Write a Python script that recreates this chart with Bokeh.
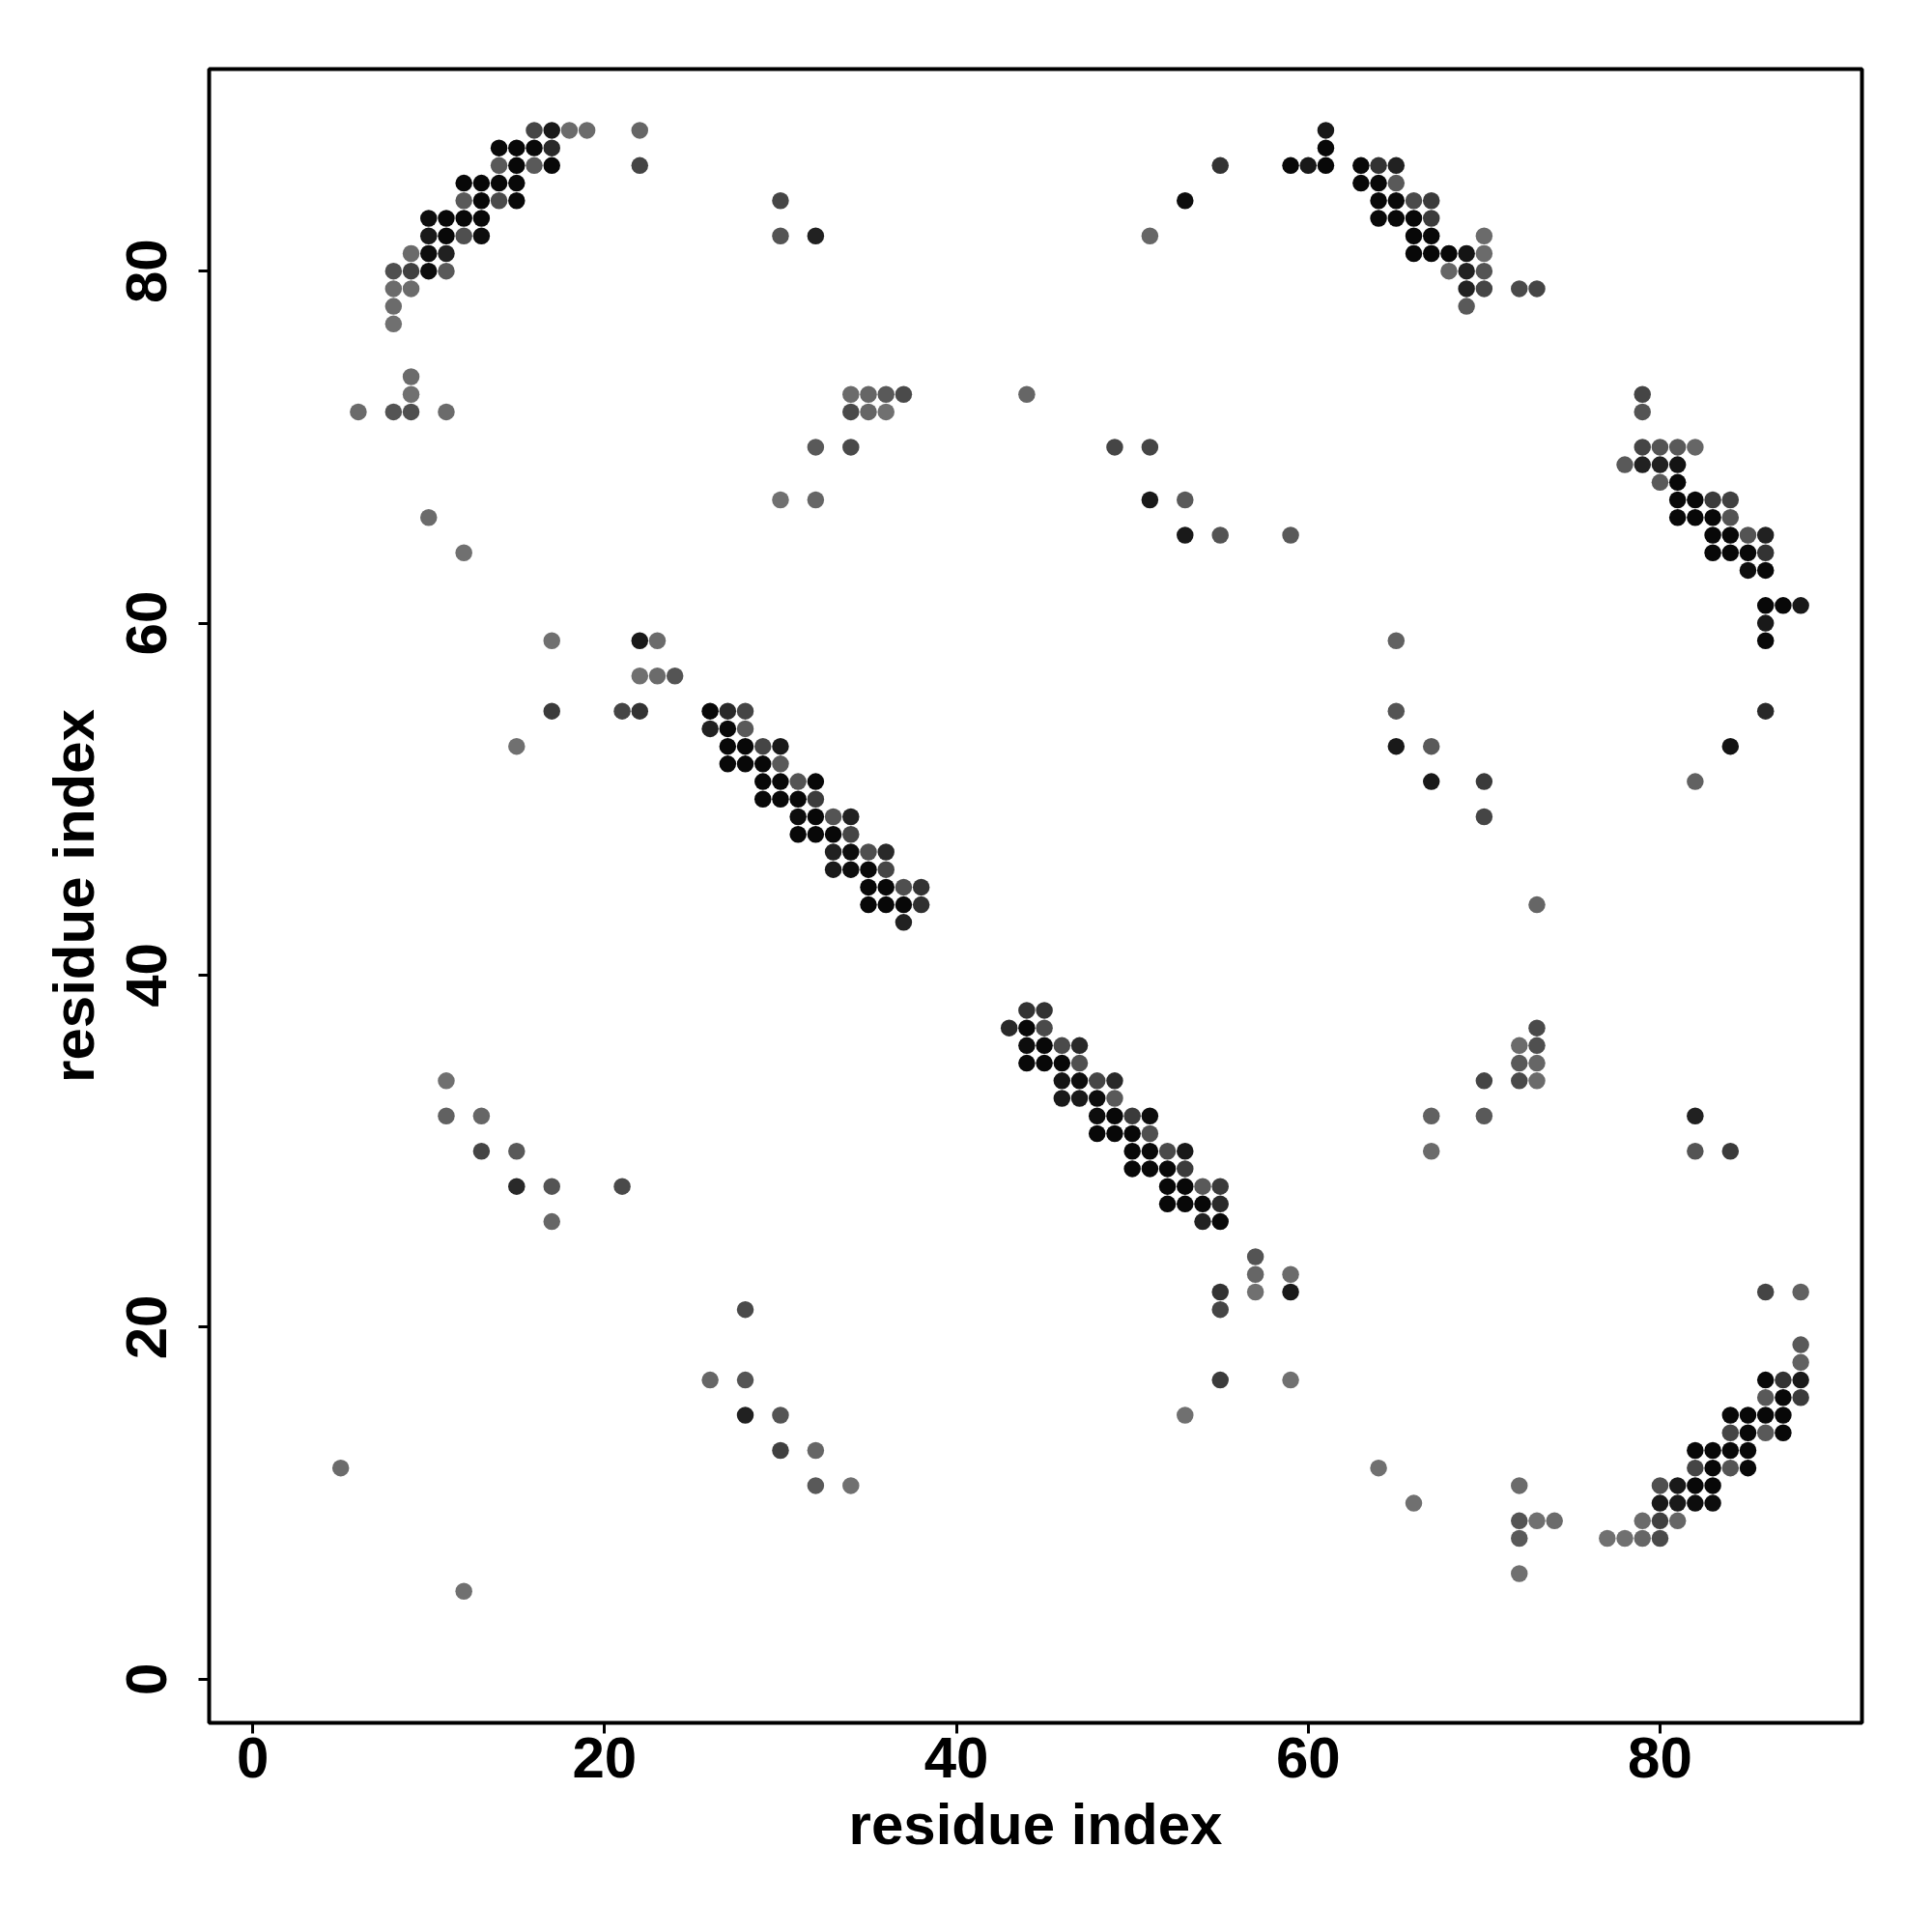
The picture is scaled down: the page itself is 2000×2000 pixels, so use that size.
from bokeh.plotting import figure
from bokeh.models import ColumnDataSource, FixedTicker, Range1d
from bokeh.embed import file_html
from bokeh.resources import INLINE

# contact map: residue i, residue j, contact probability
res_i = [
    16, 17, 18, 19, 22, 14, 15, 16, 17, 14, 15, 16, 17, 22, 12, 13, 14, 15,
    12, 13, 14, 15, 10, 11, 12, 13, 10, 11, 12, 13, 9, 10, 11, 8, 9, 10, 11,
    8, 9, 8, 8, 9, 9, 6, 8, 9, 11, 10, 12,
    30, 30, 32, 34, 35, 36, 37, 44, 34, 35, 36, 32, 34, 49, 30, 32,
    61, 61, 55, 59, 60, 61, 63, 64, 65, 63, 64, 65, 53, 64, 65, 66, 67,
    64, 65, 66, 67, 51, 66, 67, 70, 66, 67, 68, 69, 70, 68, 69, 70,
    69, 70, 72, 73, 69, 51, 51, 53, 53, 55, 59,
    79, 79, 79, 80, 81, 82, 78, 79, 80, 81, 80, 81, 81, 82, 83, 84,
    81, 82, 83, 84, 83, 84, 85, 86, 83, 84, 85, 86, 85, 86, 86, 87, 88,
    86, 86, 86, 84,
    17, 22, 23, 22, 23, 24, 17, 21, 22, 15,
    26, 27, 28, 26, 27, 28, 27, 28, 29, 30, 27, 28, 29, 30, 29, 30, 31, 32,
    29, 30, 31, 32, 31, 32, 33, 34, 31, 32, 33, 34, 33, 34, 35, 36,
    33, 34, 35, 36, 35, 36, 37, 38, 35, 36, 37, 38, 37,
    65, 65, 65, 67, 67, 70, 82, 70, 73,
    11, 11, 13, 13, 15, 15, 17, 21, 17, 28,
    44, 45, 43, 44, 45, 44, 45, 46, 47, 44, 45, 46, 47, 46, 47, 48, 49,
    46, 47, 48, 49, 48, 49, 50, 51, 48, 49, 50, 51, 50, 51, 52, 53,
    50, 51, 52, 53, 52, 53, 54, 55, 52, 53, 54, 55, 54, 55,
    57, 57, 59, 55, 57, 59, 55,
    73, 72, 73, 72, 73, 70, 72, 73, 67, 70, 82, 67, 82, 84, 86, 88, 88, 88,
    26, 28, 28, 30, 30, 32, 32, 34, 5, 12,
    55, 59, 86, 87, 88, 86, 87, 88, 53, 84, 85, 86, 87, 84, 85, 86, 87,
    82, 83, 84, 85, 64, 82, 83, 84, 85, 72, 80, 81, 82, 83,
    66, 80, 81, 82, 83, 72, 73, 74, 79, 80, 81, 72, 77, 78, 79, 80, 72,
]

res_j = [
    88, 88, 88, 88, 88, 87, 87, 87, 87, 86, 86, 86, 86, 86, 85, 85, 85, 85,
    84, 84, 84, 84, 83, 83, 83, 83, 82, 82, 82, 82, 81, 81, 81, 80, 80, 80, 80,
    79, 79, 78, 77, 74, 73, 72, 72, 72, 72, 66, 64,
    84, 82, 82, 73, 73, 73, 73, 73, 72, 72, 72, 70, 70, 70, 67, 67,
    88, 87, 86, 86, 86, 86, 86, 86, 86, 85, 85, 85, 84, 84, 84, 84, 84,
    83, 83, 83, 83, 82, 82, 82, 82, 81, 81, 81, 81, 81, 80, 80, 80,
    79, 79, 79, 79, 78, 70, 67, 67, 65, 65, 65,
    73, 72, 70, 70, 70, 70, 69, 69, 69, 69, 68, 68, 67, 67, 67, 67,
    66, 66, 66, 66, 65, 65, 65, 65, 64, 64, 64, 64, 63, 63, 61, 61, 61,
    60, 59, 55, 53,
    59, 59, 59, 57, 57, 57, 55, 55, 55, 53,
    55, 55, 55, 54, 54, 54, 53, 53, 53, 53, 52, 52, 52, 52, 51, 51, 51, 51,
    50, 50, 50, 50, 49, 49, 49, 49, 48, 48, 48, 48, 47, 47, 47, 47,
    46, 46, 46, 46, 45, 45, 45, 45, 44, 44, 44, 44, 43,
    59, 55, 53, 53, 51, 51, 51, 49, 44,
    34, 32, 32, 30, 30, 28, 28, 28, 26, 21,
    38, 38, 37, 37, 37, 36, 36, 36, 36, 35, 35, 35, 35, 34, 34, 34, 34,
    33, 33, 33, 33, 32, 32, 32, 32, 31, 31, 31, 31, 30, 30, 30, 30,
    29, 29, 29, 29, 28, 28, 28, 28, 27, 27, 27, 27, 26, 26,
    24, 23, 23, 22, 22, 22, 21,
    37, 36, 36, 35, 35, 34, 34, 34, 32, 32, 32, 30, 30, 30, 22, 22, 19, 18,
    17, 17, 15, 15, 13, 13, 11, 11, 12, 5,
    17, 17, 17, 17, 17, 16, 16, 16, 15, 15, 15, 15, 15, 14, 14, 14, 14,
    13, 13, 13, 13, 12, 12, 12, 12, 12, 11, 11, 11, 11, 11,
    10, 10, 10, 10, 10, 9, 9, 9, 9, 9, 9, 8, 8, 8, 8, 8, 6,
]

prob = [
    .73, .90, .58, .58, .60, .97, .97, .97, .84, .65, .97, .65, .97, .73, .97, .97, .97, .97,
    .65, .97, .71, .97, .95, .97, .97, .97, .90, .97, .69, .95, .58, .95, .87, .69, .75, .95, .65,
    .58, .58, .58, .56, .58, .56, .58, .67, .69, .58, .58, .56,
    .73, .67, .87, .58, .60, .65, .71, .60, .71, .60, .56, .65, .71, .73, .56, .60,
    .90, .97, .80, .97, .90, .97, .97, .80, .87, .97, .97, .65, .95, .97, .97, .71, .77,
    .97, .97, .97, .77, .60, .97, .97, .58, .97, .97, .97, .92, .58, .60, .87, .67,
    .87, .73, .71, .73, .65, .73, .90, .65, .90, .67, .65,
    .73, .67, .73, .67, .65, .60, .65, .87, .87, .92, .65, .97, .97, .97, .77, .75,
    .97, .97, .97, .67, .97, .97, .67, .87, .97, .97, .97, .80, .95, .97, .97, .97, .90,
    .90, .97, .84, .92,
    .56, .90, .58, .56, .58, .67, .77, .73, .80, .56,
    .97, .84, .73, .87, .97, .65, .97, .97, .73, .90, .97, .97, .97, .65, .97, .97, .67, .97,
    .97, .97, .97, .77, .95, .97, .67, .87, .97, .97, .97, .73, .87, .95, .69, .84,
    .90, .95, .97, .73, .97, .97, .69, .80, .97, .97, .97, .81, .87,
    .62, .67, .90, .65, .90, .77, .62, .73, .60,
    .56, .62, .60, .73, .65, .84, .67, .71, .60, .71,
    .80, .80, .84, .97, .71, .95, .97, .71, .84, .97, .97, .97, .69, .92, .95, .73, .84,
    .90, .90, .95, .65, .95, .97, .77, .95, .97, .97, .97, .69, .97, .97, .71, .90,
    .97, .97, .97, .77, .97, .97, .65, .77, .97, .97, .97, .84, .87, .97,
    .67, .60, .58, .80, .56, .90, .73,
    .71, .58, .69, .65, .60, .73, .71, .58, .62, .65, .87, .58, .67, .77, .73, .62, .65, .62,
    .60, .67, .87, .67, .75, .60, .65, .56, .58, .56,
    .77, .56, .97, .80, .90, .65, .97, .77, .56, .97, .97, .97, .97, .73, .97, .65, .97,
    .97, .97, .97, .97, .56, .73, .97, .67, .97, .58, .69, .90, .97, .97,
    .56, .90, .90, .95, .95, .67, .56, .58, .58, .75, .60, .65, .56, .56, .60, .71, .56,
]

tick_values = [0, 20, 40, 60, 80]
axis_title = "residue index"

colors = []
for pv in prob:
    g = int(round(255 * (1 - pv)))
    colors.append("#%02x%02x%02x" % (g, g, g))

src = ColumnDataSource(dict(x=res_i, y=res_j, c=colors))

FONT = "Liberation Sans"

p = figure(
    output_backend="svg", toolbar_location=None,
    frame_width=1711, frame_height=1712,
    min_border_left=216, min_border_right=57, min_border_top=71, min_border_bottom=201,
    x_range=Range1d(-2.48, 91.48), y_range=Range1d(-2.48, 91.48),
    background_fill_color="white", border_fill_color="white",
)
p.scatter("x", "y", source=src, size=17.5, fill_color="c", line_color=None)

p.outline_line_color = "black"
p.outline_line_width = 4
p.xgrid.visible = False
p.ygrid.visible = False

for ax in (p.xaxis[0], p.yaxis[0]):
    ax.ticker = FixedTicker(ticks=tick_values)
    ax.axis_label = axis_title
    ax.axis_line_color = None
    ax.major_tick_out = 11
    ax.major_tick_in = 0
    ax.major_tick_line_width = 3
    ax.major_tick_line_color = "black"
    ax.minor_tick_line_color = None
    ax.major_label_text_font = FONT
    ax.major_label_text_font_style = "bold"
    ax.major_label_text_font_size = "60px"
    ax.major_label_text_color = "black"
    ax.axis_label_text_font = FONT
    ax.axis_label_text_font_style = "bold"
    ax.axis_label_text_font_size = "60px"
    ax.axis_label_text_color = "black"

p.xaxis[0].major_label_standoff = 4
p.xaxis[0].axis_label_standoff = 12
p.yaxis[0].major_label_orientation = "vertical"
p.yaxis[0].major_label_standoff = 33
p.yaxis[0].axis_label_standoff = 19

open("out.html", "w").write(file_html(p, INLINE))
